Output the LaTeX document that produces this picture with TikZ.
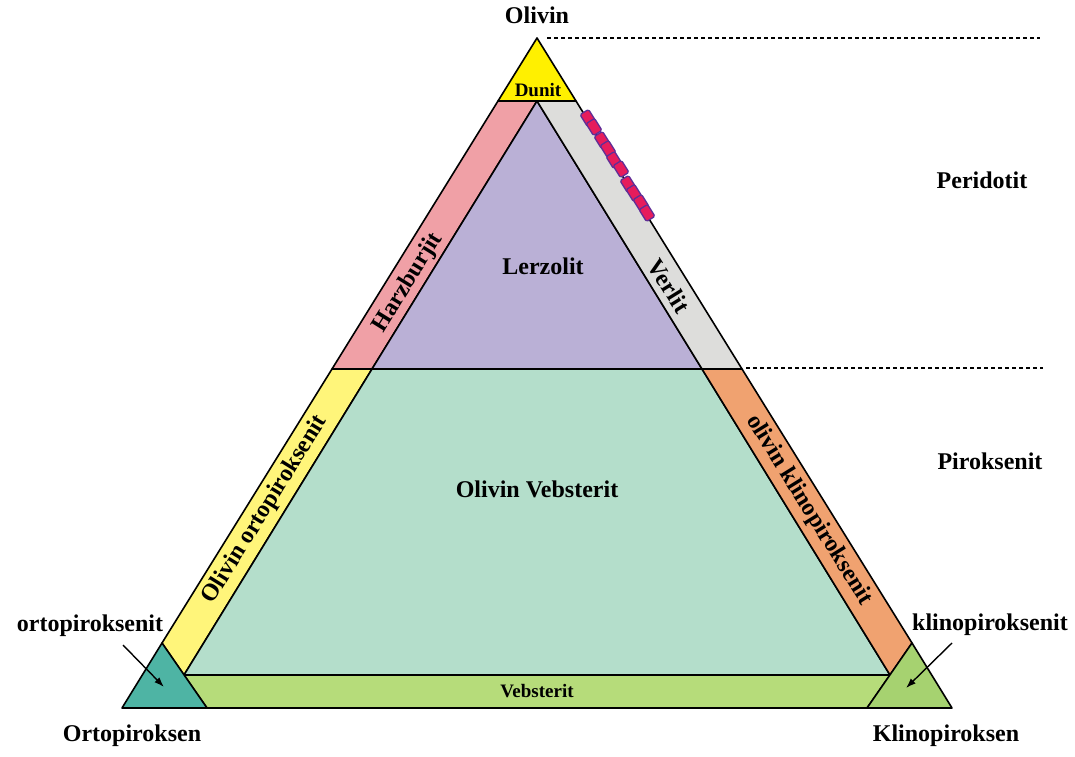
\documentclass[tikz,border=0pt]{standalone}
\usepackage{fontspec}
\setmainfont{Liberation Serif}
\usetikzlibrary{arrows.meta}

\definecolor{dunitcol}{RGB}{255,240,0}
\definecolor{harzcol}{RGB}{240,160,166}
\definecolor{lerzcol}{RGB}{186,176,214}
\definecolor{verlcol}{RGB}{221,221,219}
\definecolor{olopxcol}{RGB}{255,245,122}
\definecolor{olvebcol}{RGB}{180,222,203}
\definecolor{olcpxcol}{RGB}{240,162,112}
\definecolor{vebcol}{RGB}{182,220,122}
\definecolor{opxcol}{RGB}{78,180,164}
\definecolor{cpxcol}{RGB}{166,210,112}
\definecolor{graincol}{RGB}{230,28,92}
\definecolor{grainedge}{RGB}{96,46,150}

\begin{document}
\begin{tikzpicture}[x=1pt,y=-1pt,line width=1.6pt,line join=round,
  lbl/.style={font=\bfseries\fontsize{24}{26}\selectfont,inner sep=0pt},
  smalllbl/.style={font=\bfseries\fontsize{19}{21}\selectfont,inner sep=0pt},
  field/.style={draw=black},
  pointer/.style={-{Latex[length=10pt,width=7pt]},line width=1.4pt},
  grain/.style={draw=grainedge,fill=graincol,line width=1.3pt,rounded corners=1.5pt,
    minimum width=14pt,minimum height=10pt,inner sep=0pt,rotate=-58}]

\useasboundingbox (0,0) rectangle (1075,756);

% Corners of the diagram and the field boundaries
\coordinate (O) at (537,38);
\coordinate (Opx) at (122,708);
\coordinate (Cpx) at (952,708);
\coordinate (D1) at (498,101);
\coordinate (D2) at (576,101);
\coordinate (P) at (537,101);
\coordinate (OL) at (332,369);
\coordinate (IL) at (372,369);
\coordinate (IR) at (702,369);
\coordinate (OR) at (742,369);
\coordinate (BL) at (184,675);
\coordinate (BR) at (890,675);
\coordinate (TL) at (162,643);
\coordinate (TR) at (912,643);
\coordinate (VL) at (207,708);
\coordinate (VR) at (867,708);

% Fill the fields
\filldraw[field,fill=dunitcol] (O) -- (D2) -- (D1) -- cycle;
\filldraw[field,fill=harzcol] (D1) -- (P) -- (IL) -- (OL) -- cycle;
\filldraw[field,fill=lerzcol] (P) -- (IR) -- (IL) -- cycle;
\filldraw[field,fill=verlcol] (P) -- (D2) -- (OR) -- (IR) -- cycle;
\filldraw[field,fill=olopxcol] (OL) -- (IL) -- (BL) -- (TL) -- cycle;
\filldraw[field,fill=olvebcol] (IL) -- (IR) -- (BR) -- (BL) -- cycle;
\filldraw[field,fill=olcpxcol] (IR) -- (OR) -- (TR) -- (BR) -- cycle;
\filldraw[field,fill=vebcol] (BL) -- (BR) -- (VR) -- (VL) -- cycle;
\filldraw[field,fill=opxcol] (Opx) -- (TL) -- (VL) -- cycle;
\filldraw[field,fill=cpxcol] (Cpx) -- (TR) -- (VR) -- cycle;

% Dashed lines to the rock groups
\coordinate (dash1) at (1040,38);
\coordinate (dash2a) at (746,368);
\coordinate (dash2) at (1043,368);
\draw[dashed,line width=1.3pt,dash pattern=on 4pt off 3pt] ([xshift=10pt]O) -- (dash1);
\draw[dashed,line width=1.3pt,dash pattern=on 4pt off 3pt] (dash2a) -- (dash2);

% Samples along the Verlit field
\foreach [count=\i] \gx/\gy in {588/118,594/127,602/140,608/149,614/160,621/169,628/184,634/193,641/203,647/213}
  \node[grain] (g\i) at (\gx,\gy) {};

% Field names
\node[lbl] (olivin) at (537,15) {Olivin};
\node[smalllbl] (dunit) at (538,90) {Dunit};
\node[lbl] (lerzolit) at (543,266) {Lerzolit};
\node[lbl,rotate=58.2] (harzburjit) at (408,283) {Harzburjit};
\node[lbl,rotate=-58.2] (verlit) at (669,286) {Verlit};
\node[lbl] (olvebsterit) at (537,489) {Olivin Vebsterit};
\node[lbl,rotate=58.2] (olopx) at (265,510) {Olivin ortopiroksenit};
\node[lbl,rotate=-58.2] (olcpx) at (809,510) {olivin klinopiroksenit};
\node[smalllbl] (vebsterit) at (537,691) {Vebsterit};

% Rock groups
\node[lbl] (peridotit) at (982,180) {Peridotit};
\node[lbl] (piroksenit) at (990,461) {Piroksenit};

% Corner names and arrows
\node[lbl] (opxit) at (90,626) {ortopiroksenit};
\node[lbl] (cpxit) at (990,625) {klinopiroksenit};
\node[lbl] (opxname) at (132,736) {Ortopiroksen};
\node[lbl] (cpxname) at (946,736) {Klinopiroksen};
\coordinate (opxtail) at (123,645);
\coordinate (opxtip) at (164,687);
\coordinate (cpxtail) at (952,643);
\coordinate (cpxtip) at (906,688);
\draw[pointer] (opxtail) -- (opxtip);
\draw[pointer] (cpxtail) -- (cpxtip);

\end{tikzpicture}
\end{document}
